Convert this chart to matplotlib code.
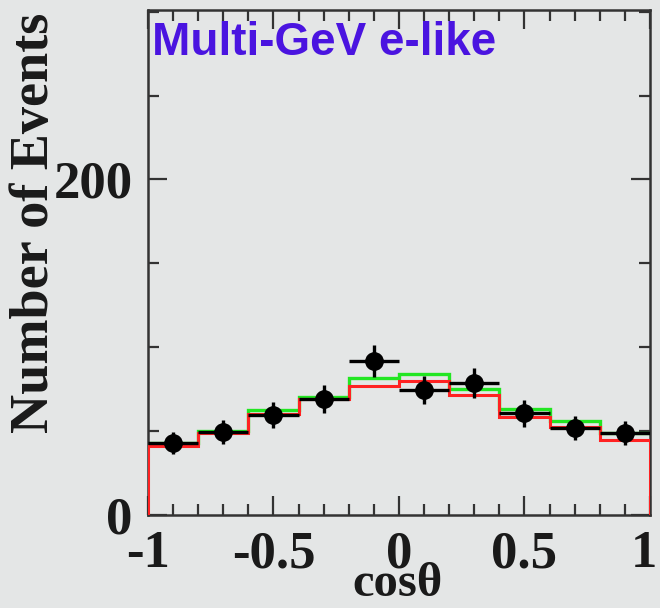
import numpy as np
import matplotlib
matplotlib.use("Agg")
import matplotlib.pyplot as plt
from matplotlib.ticker import MultipleLocator, FixedLocator
from matplotlib.transforms import ScaledTranslation

# cos(theta) binning: 10 bins from -1 to 1
bin_edges = [-1.0, -0.8, -0.6, -0.4, -0.2, 0.0, 0.2, 0.4, 0.6, 0.8, 1.0]
bin_centers = [-0.9, -0.7, -0.5, -0.3, -0.1, 0.1, 0.3, 0.5, 0.7, 0.9]

# observed events
data_counts = [43, 49.5, 59.5, 69, 92, 74.5, 78.5, 60.5, 52, 49]
# expectation without oscillation (green) and best-fit oscillation (red)
mc_green = [43, 50, 62.5, 70.6, 81.6, 84, 75, 63, 56.3, 49.1]
mc_red = [41, 49, 60, 69.3, 76.6, 79.6, 71.6, 58.3, 52.7, 44.4]

y_ticks_major = [0, 200]
y_tick_labels = ["0", "200"]
x_ticks_major = [-1, -0.5, 0, 0.5, 1]
x_tick_labels = ["-1", "-0.5", "0", "0.5", "1"]

bg = "#e4e6e6"
fig = plt.figure(figsize=(6.6, 6.08), dpi=100, facecolor=bg)
ax = fig.add_axes([0.2242, 0.1530, 0.7606, 0.8306], facecolor=bg)

ax.stairs(mc_green, bin_edges, baseline=None, color="#22e622", lw=2.4, zorder=2)
ax.stairs(mc_red, bin_edges, baseline=0, fill=False, color="#ff2222", lw=2.2, zorder=3)

yerr = np.sqrt(np.array(data_counts))
xerr = 0.1
ax.errorbar(bin_centers, data_counts, xerr=xerr, yerr=yerr, fmt="o",
            color="black", ms=12.5, lw=2.4, capsize=0, zorder=4)

ax.set_xlim(-1, 1)
ax.set_ylim(0, 301)

serif = ["Liberation Serif", "DejaVu Serif"]

ax.xaxis.set_major_locator(FixedLocator(x_ticks_major))
ax.xaxis.set_minor_locator(MultipleLocator(0.1))
ax.yaxis.set_major_locator(FixedLocator(y_ticks_major))
ax.yaxis.set_minor_locator(MultipleLocator(50))
ax.set_xticklabels(x_tick_labels)
ax.set_yticklabels(y_tick_labels)

ax.tick_params(which="both", direction="in", top=True, right=True,
               color="#333333", width=1.6)
ax.tick_params(which="major", length=14, labelsize=38)
ax.tick_params(axis="x", which="major", pad=11)
ax.tick_params(axis="y", which="major", pad=11)
ax.tick_params(which="minor", length=8)
for lab in ax.get_xticklabels() + ax.get_yticklabels():
    lab.set_fontfamily(serif)
    lab.set_fontweight("bold")
    lab.set_color("#1a1a1a")

# keep the right-most x label inside the canvas
last = ax.get_xticklabels()[-1]
last.set_transform(last.get_transform() + ScaledTranslation(-6 / 100, 0, fig.dpi_scale_trans))

for s in ax.spines.values():
    s.set_color("#333333")
    s.set_linewidth(1.8)

fig.text(0.053, 0.634, "Number of Events", rotation=90, ha="center", va="center",
         fontsize=39, fontweight="bold", family=serif, color="#1a1a1a")
fig.text(0.603, 0.020, "cos\u03b8", ha="center", va="baseline",
         fontsize=35, fontweight="bold", family=serif, color="#1a1a1a")

ax.text(0.008, 0.978, "Multi-GeV e-like", transform=ax.transAxes, ha="left", va="top",
        fontsize=33, fontweight="bold", family=["Liberation Sans", "DejaVu Sans"],
        color="#4a14e0", zorder=5)

fig.savefig("out.png", dpi=100, facecolor=bg)
